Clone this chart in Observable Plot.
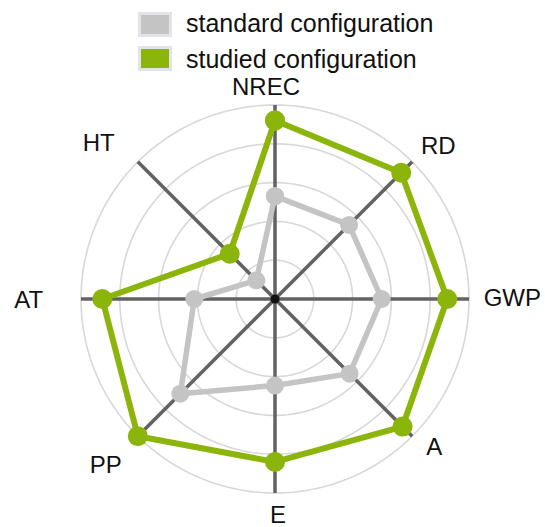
<!DOCTYPE html>
<html><head><meta charset="utf-8">
<script src="https://cdn.jsdelivr.net/npm/d3@7"></script>
<script src="https://cdn.jsdelivr.net/npm/@observablehq/plot@0.6"></script>
<style>
body{margin:0;background:#fff;font-family:"Liberation Sans",Arial,sans-serif;}
#legend{position:relative;width:545px;height:62px;z-index:1;}
.sw{position:absolute;left:138px;width:28px;height:19px;border:3px solid #e3e3ea;}
.lt{position:absolute;left:186px;font-size:25px;line-height:25px;color:#111;white-space:nowrap;}
#chart svg{display:block;}
</style></head><body>
<div id="legend"></div>
<div id="chart"></div>
<script>
// ---- data ----
const axes = ["NREC", "RD", "GWP", "A", "E", "PP", "AT", "HT"];
const standard = [2.65, 2.7, 2.75, 2.72, 2.23, 3.45, 2.08, 0.68];
const studied  = [4.6, 4.6, 4.44, 4.65, 4.2, 5.0, 4.45, 1.65];
const rings = [1, 2, 3, 4, 5];
const seriesNames = ["standard configuration", "studied configuration"];
const seriesColors = ["#c4c4c4", "#8cb50c"];

// ---- layout (not data) ----
const unit = 38.8;               // px per value unit
const legendH = 62;
const W = 545, H = 527 - legendH, cx = 274.5, cy = 298.5 - legendH;
const labelR = 5.55;
const labelNudge = {NREC:[-9,4], RD:[11,0], GWP:[22,-1], A:[7,-4], E:[3,1], PP:[-17,14], AT:[-31,1], HT:[-24,-3]};

// legend
const legend = document.getElementById("legend");
seriesNames.forEach((name, i) => {
  const sw = document.createElement("div");
  sw.className = "sw";
  sw.style.top = (12 + i * 33.5) + "px";
  sw.style.background = seriesColors[i];
  legend.appendChild(sw);
  const t = document.createElement("div");
  t.className = "lt";
  t.style.top = (11 + i * 36) + "px";
  t.textContent = name;
  legend.appendChild(t);
});

const n = axes.length;
const ang = i => (i / n) * 2 * Math.PI;
const toXY = (v, i) => ({x: v * Math.sin(ang(i)), y: v * Math.cos(ang(i))});

const seriesRows = [];
[standard, studied].forEach((vals, s) => {
  for (let k = 0; k <= n; k++) {
    const i = k % n;
    seriesRows.push({series: seriesNames[s], axis: axes[i], value: vals[i], ...toXY(vals[i], i)});
  }
});
const dotsOf = s => seriesRows.filter(d => d.series === seriesNames[s]);

const ringRows = rings.flatMap(r => d3.range(0, 361, 2).map(a => ({ring: r, x: r * Math.sin(a * Math.PI / 180), y: r * Math.cos(a * Math.PI / 180)})));
const spokes = axes.map((a, i) => ({axis: a, x2: toXY(5, i).x, y2: toXY(5, i).y}));
const labels = axes.map((a, i) => {
  const p = toXY(labelR, i);
  return {axis: a, x: p.x + labelNudge[a][0] / unit, y: p.y - labelNudge[a][1] / unit};
});

const chart = Plot.plot({
  width: W, height: H,
  marginTop: 0, marginBottom: 0, marginLeft: 0, marginRight: 0,
  x: {domain: [-cx / unit, (W - cx) / unit], range: [0, W], axis: null},
  y: {domain: [-(H - cy) / unit, cy / unit], range: [H, 0], axis: null},
  style: {fontFamily: '"Liberation Sans", Arial, sans-serif', background: "transparent"},
  marks: [
    Plot.line(ringRows, {x: "x", y: "y", z: "ring", stroke: "#d8d8d8", strokeWidth: 1.6}),
    Plot.link(spokes, {x1: 0, y1: 0, x2: "x2", y2: "y2", stroke: "#626262", strokeWidth: 3.5, strokeLinecap: "butt"}),
    Plot.dot([0], {x: 0, y: 0, r: 4.5, fill: "#111"}),
    Plot.line(dotsOf(0), {x: "x", y: "y", stroke: seriesColors[0], strokeWidth: 5.5, strokeLinejoin: "round"}),
    Plot.dot(dotsOf(0), {x: "x", y: "y", r: 9, fill: seriesColors[0]}),
    Plot.line(dotsOf(1), {x: "x", y: "y", stroke: seriesColors[1], strokeWidth: 6, strokeLinejoin: "round"}),
    Plot.dot(dotsOf(1), {x: "x", y: "y", r: 10, fill: seriesColors[1]}),
    Plot.text(labels, {x: "x", y: "y", text: "axis", fontSize: 24, fill: "#111"})
  ]
});
document.getElementById("chart").appendChild(chart);
</script>
</body></html>
